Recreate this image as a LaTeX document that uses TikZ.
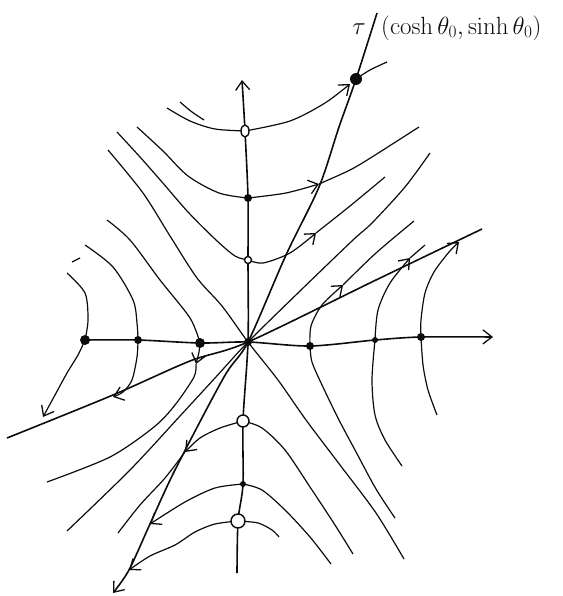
\documentclass[tikz,border=0pt]{standalone}
\usepackage{tikz}
\usetikzlibrary{arrows.meta}
\definecolor{pencil}{RGB}{12,12,12}
\tikzset{
  >={Straight Barb[length=9pt,width=14pt,line width=1.3pt]},
  axis/.style={->,line width=1.6pt,draw=pencil},
  ray/.style={line width=1.6pt,draw=pencil},
  curve/.style={line width=1.2pt,draw=pencil},
  flow/.style={curve,->},
  dot/.style={fill=pencil},
  hollow/.style={draw=pencil,line width=1.4pt,fill=white},
  tag/.style={font=\fontsize{25}{29}\selectfont,text=pencil,inner sep=0pt},
}

\begin{document}
\begin{tikzpicture}[x=1pt,y=-1pt]
  \useasboundingbox (0,0) rectangle (562,596);
  % points on the axes
  \coordinate (O) at (248,342);
  \coordinate (xa) at (85,340);  \coordinate (xb) at (138,340); \coordinate (xc) at (200,343);
  \coordinate (xd) at (310,346); \coordinate (xe) at (375,340); \coordinate (xf) at (421,337);
  \coordinate (ya) at (245,131); \coordinate (yb) at (248,198); \coordinate (yc) at (248,260);
  \coordinate (yd) at (243,421); \coordinate (ye) at (243,484); \coordinate (yf) at (238,521);
  \coordinate (P) at (356,79);
  % axes
  \draw[axis] plot[smooth] coordinates {(237,573) (yf) (ye) (yd) (O) (yc) (yb) (ya) (242,80)};
  \draw[axis] plot[smooth] coordinates {(xa) (xb) (xc) (O) (xd) (xe) (xf) (493,337)};
  % the two rays
  \draw[ray,->] plot[smooth] coordinates {(377,13) (P) (339,127) (319,187) (286,255) (O)
    (224,377) (175,470) (150,524) (129,570) (113,593)};
  \draw[ray] plot[smooth] coordinates {(7,438) (113,395) (190,361) (O) (376,280) (482,229)};
  % asymptotes
  \draw[curve] plot[smooth] coordinates {(108,150) (143,193) (170,236) (197,278) (222,306) (O)
    (278,380) (306,420) (340,465) (376,513) (404,559)};
  \draw[curve] plot[smooth] coordinates {(430,153) (405,187) (372,223) (353,240) (300,291) (O)
    (215,378) (180,416) (130,470) (67,531)};
  % upper branches
  \draw[curve] plot[smooth] coordinates {(167,108) (190,121) (215,129) (ya)};
  \draw[flow] plot[smooth] coordinates {(ya) (290,121) (325,103) (350,84)};
  \draw[curve] plot[smooth] coordinates {(P) (370,70) (387,62)};
  \draw[curve] plot[smooth] coordinates {(180,102) (192,112) (204,120)};
  \draw[curve] plot[smooth] coordinates {(137,127) (163,151) (188,176) (219,193) (yb)};
  \draw[flow] plot[smooth] coordinates {(yb) (286,193) (319,184)};
  \draw[curve] plot[smooth] coordinates {(319,184) (350,170) (372,157) (419,127)};
  \draw[curve] plot[smooth] coordinates {(117,132) (140,157) (162,182) (188,212) (216,240) (235,256) (yc)};
  \draw[flow] plot[smooth] coordinates {(yc) (263,263) (290,253) (316,233)};
  \draw[curve] plot[smooth] coordinates {(316,233) (350,206) (385,177)};
  % left branches
  \draw[curve] plot[smooth] coordinates {(67,273) (85,293) (88,320) (xa)};
  \draw[curve] (72,262) -- (80,258);
  \draw[flow] plot[smooth] coordinates {(xa) (78,355) (67,373) (55,395) (43,417)};
  \draw[curve] plot[smooth] coordinates {(85,245) (113,267) (133,300) (137,323) (xb)};
  \draw[flow] plot[smooth] coordinates {(xb) (137,357) (132,380) (123,392) (113,397)};
  \draw[curve] plot[smooth] coordinates {(107,220) (130,240) (160,280) (190,318) (xc)};
  \draw[flow] plot[smooth] coordinates {(xc) (199,352) (196,364)};
  \draw[curve] plot[smooth] coordinates {(196,364) (194,377) (175,405) (154,427) (110,457) (47,482)};
  % right branches
  \draw[curve] plot[smooth] coordinates {(395,518) (376,489) (355,450) (339,420) (322,385) (312,362) (xd)};
  \draw[flow] plot[smooth] coordinates {(xd) (311,326) (322,305) (343,285)};
  \draw[curve] plot[smooth] coordinates {(343,285) (376,253) (414,221)};
  \draw[curve] plot[smooth] coordinates {(402,466) (385,440) (375,415) (372,380) (xe)};
  \draw[flow] plot[smooth] coordinates {(xe) (378,310) (390,283) (410,258)};
  \draw[curve] (410,258) -- (425,245);
  \draw[curve] plot[smooth] coordinates {(437,415) (428,390) (423,365) (xf)};
  \draw[flow] plot[smooth] coordinates {(xf) (421,320) (425,293) (434,272) (449,252) (459,242)};
  % lower branches
  \draw[curve] plot[smooth] coordinates {(yd) (262,428) (285,450) (310,487) (335,525) (353,554)};
  \draw[flow] plot[smooth] coordinates {(yd) (220,428) (200,438) (185,452)};
  \draw[curve] plot[smooth] coordinates {(185,452) (165,478) (140,505) (118,533)};
  \draw[curve] plot[smooth] coordinates {(ye) (262,490) (285,510) (310,537) (331,564)};
  \draw[flow] plot[smooth] coordinates {(ye) (215,488) (185,502) (150,524)};
  \draw[curve] plot[smooth] coordinates {(yf) (258,523) (272,530) (279,537)};
  \draw[flow] plot[smooth] coordinates {(yf) (215,524) (195,532) (175,545) (150,556) (129,570)};
  % dots
  \foreach \p/\r in {xa/5,xb/4,xc/5,xd/4,xe/3,xf/4,yb/4,ye/3,O/4,P/6}
    \fill[dot] (\p) circle (\r pt);
  \draw[hollow] (ya) ellipse (4pt and 6pt);
  \foreach \p/\r in {yc/3.5,yd/6,yf/7}
    \draw[hollow] (\p) circle (\r pt);
  % label
  \node[tag] (tau) at (359,29) {$\tau$};
  \node[tag,anchor=west] (dir) at (381,28) {$(\cosh\theta_0,\sinh\theta_0)$};
\end{tikzpicture}
\end{document}
